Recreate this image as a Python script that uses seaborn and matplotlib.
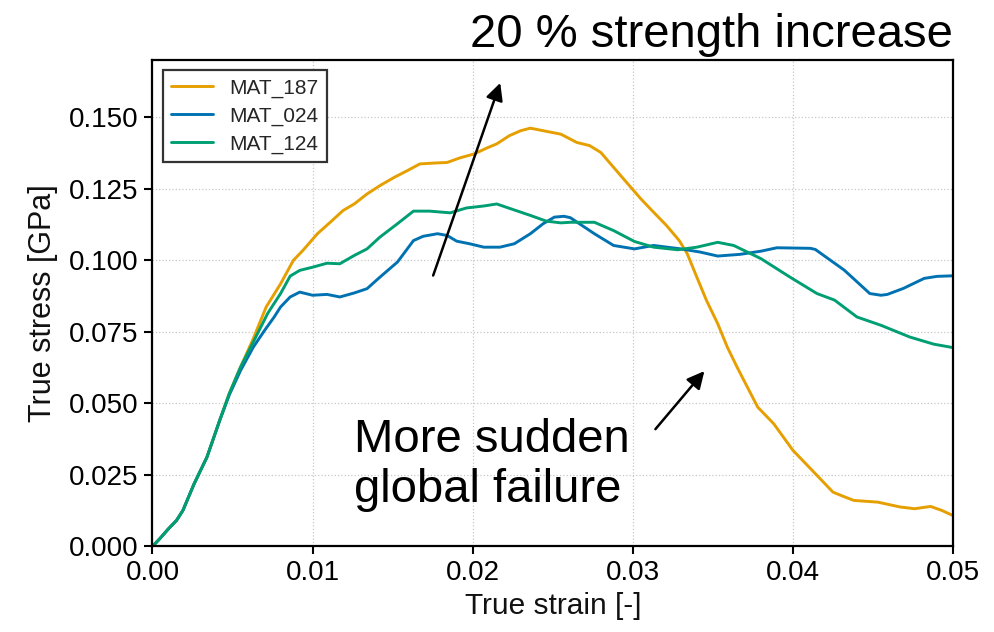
import matplotlib
matplotlib.use("Agg")
import matplotlib.pyplot as plt
import numpy as np
import pandas as pd
import seaborn as sns

# Stress-strain curves (strain [-], true stress [GPa])
strain_187 = [0.0, 0.0005, 0.0010, 0.0015, 0.0019, 0.0026, 0.0034, 0.0042, 0.0048, 0.0055,
              0.0063, 0.0071, 0.0080, 0.0088, 0.0094, 0.0103, 0.0111, 0.0119, 0.0126, 0.0134,
              0.0142, 0.0151, 0.0159, 0.0167, 0.0176, 0.0184, 0.0192, 0.0201, 0.0209, 0.0215,
              0.0223, 0.0230, 0.0236, 0.0244, 0.0255, 0.0265, 0.0273, 0.0280, 0.0288, 0.0296,
              0.0305, 0.0313, 0.0321, 0.0329, 0.0334, 0.0340, 0.0346, 0.0353, 0.0359, 0.0365,
              0.0372, 0.0378, 0.0388, 0.0400, 0.0411, 0.0425, 0.0432, 0.0438, 0.0453, 0.0467,
              0.0476, 0.0486, 0.0493, 0.0500]
stress_187 = [0.0, 0.0030, 0.0062, 0.0091, 0.0126, 0.0219, 0.0312, 0.0441, 0.0535, 0.0627,
              0.0727, 0.0837, 0.0918, 0.1000, 0.1035, 0.1093, 0.1133, 0.1174, 0.1197, 0.1232,
              0.1261, 0.1290, 0.1313, 0.1337, 0.1340, 0.1342, 0.1358, 0.1372, 0.1393, 0.1407,
              0.1436, 0.1453, 0.1462, 0.1453, 0.1441, 0.1412, 0.1401, 0.1377, 0.1325, 0.1273,
              0.1215, 0.1168, 0.1122, 0.1069, 0.1023, 0.0941, 0.0860, 0.0779, 0.0697, 0.0628,
              0.0552, 0.0487, 0.0429, 0.0336, 0.0272, 0.0190, 0.0174, 0.0161, 0.0155, 0.0138,
              0.0132, 0.0140, 0.0126, 0.0108]

strain_024 = [0.0, 0.0005, 0.0010, 0.0015, 0.0019, 0.0026, 0.0034, 0.0042, 0.0048, 0.0055,
              0.0063, 0.0070, 0.0076, 0.0080, 0.0086, 0.0092, 0.0100, 0.0109, 0.0117, 0.0126,
              0.0134, 0.0142, 0.0153, 0.0163, 0.0169, 0.0178, 0.0184, 0.0190, 0.0198, 0.0207,
              0.0217, 0.0226, 0.0236, 0.0244, 0.0251, 0.0257, 0.0261, 0.0276, 0.0288, 0.0301,
              0.0313, 0.0330, 0.0342, 0.0353, 0.0367, 0.0380, 0.0390, 0.0411, 0.0414, 0.0432,
              0.0448, 0.0455, 0.0459, 0.0469, 0.0482, 0.0490, 0.0500]
stress_024 = [0.0, 0.0030, 0.0062, 0.0091, 0.0126, 0.0219, 0.0312, 0.0441, 0.0530, 0.0615,
              0.0697, 0.0755, 0.0802, 0.0837, 0.0872, 0.0889, 0.0878, 0.0881, 0.0872, 0.0886,
              0.0901, 0.0941, 0.0994, 0.1069, 0.1084, 0.1093, 0.1087, 0.1067, 0.1058, 0.1046,
              0.1046, 0.1058, 0.1093, 0.1128, 0.1151, 0.1154, 0.1149, 0.1093, 0.1052, 0.1040,
              0.1052, 0.1040, 0.1029, 0.1015, 0.1021, 0.1032, 0.1044, 0.1042, 0.1038, 0.0966,
              0.0884, 0.0878, 0.0881, 0.0902, 0.0937, 0.0944, 0.0946]

strain_124 = [0.0, 0.0005, 0.0010, 0.0015, 0.0019, 0.0026, 0.0034, 0.0042, 0.0048, 0.0055,
              0.0063, 0.0072, 0.0080, 0.0086, 0.0092, 0.0100, 0.0109, 0.0117, 0.0126, 0.0134,
              0.0142, 0.0153, 0.0163, 0.0173, 0.0186, 0.0196, 0.0207, 0.0215, 0.0226, 0.0236,
              0.0246, 0.0255, 0.0261, 0.0276, 0.0288, 0.0301, 0.0313, 0.0328, 0.0340, 0.0353,
              0.0363, 0.0373, 0.0380, 0.0398, 0.0415, 0.0426, 0.0440, 0.0455, 0.0473, 0.0488,
              0.0500]
stress_124 = [0.0, 0.0030, 0.0062, 0.0091, 0.0126, 0.0219, 0.0312, 0.0441, 0.0535, 0.0627,
              0.0715, 0.0815, 0.0884, 0.0945, 0.0965, 0.0976, 0.0990, 0.0988, 0.1017, 0.1040,
              0.1081, 0.1128, 0.1172, 0.1172, 0.1166, 0.1183, 0.1190, 0.1197, 0.1176, 0.1157,
              0.1137, 0.1131, 0.1133, 0.1133, 0.1104, 0.1066, 0.1046, 0.1037, 0.1046, 0.1063,
              0.1052, 0.1025, 0.1006, 0.0942, 0.0884, 0.0861, 0.0802, 0.0773, 0.0732, 0.0707,
              0.0695]

materials = ["MAT_187", "MAT_024", "MAT_124"]
colors = ["#E69F00", "#0072B2", "#009E73"]
x_ticks = [0.00, 0.01, 0.02, 0.03, 0.04, 0.05]
y_ticks = [0.000, 0.025, 0.050, 0.075, 0.100, 0.125, 0.150]

frames = []
for name, xs, ys in zip(materials,
                        [strain_187, strain_024, strain_124],
                        [stress_187, stress_024, stress_124]):
    frames.append(pd.DataFrame({"strain": xs, "stress": ys, "material": name}))
df = pd.concat(frames, ignore_index=True)

sns.set_theme(style="ticks")
plt.rcParams["font.family"] = ["Liberation Sans", "DejaVu Sans"]
plt.rcParams["axes.edgecolor"] = "black"
plt.rcParams["lines.solid_joinstyle"] = "round"
plt.rcParams["lines.solid_capstyle"] = "round"

fig = plt.figure(figsize=(9.94, 6.32), dpi=100)
ax = fig.add_axes([0.1534, 0.1353, 0.8054, 0.7697])

sns.lineplot(data=df, x="strain", y="stress", hue="material", hue_order=materials,
             palette=colors, estimator=None, sort=False, linewidth=2.1, ax=ax)

ax.set_xlim(0, 0.05)
ax.set_ylim(0, 0.17)
ax.set_xticks(x_ticks)
ax.set_yticks(y_ticks)
ax.set_xticklabels([f"{v:.2f}" for v in x_ticks])
ax.set_yticklabels([f"{v:.3f}" for v in y_ticks])
ax.tick_params(axis="both", labelsize=20, direction="out", length=6, width=1.5,
               color="black", pad=4, labelcolor="black")
ax.grid(True, linestyle=":", color="#c8c8c8", linewidth=0.9)
for sp in ax.spines.values():
    sp.set_linewidth(1.6)
    sp.set_color("black")

ax.set_xlabel("True strain [-]", fontsize=21.5, color="#111111", labelpad=4)
ax.set_ylabel("True stress [GPa]", fontsize=22, color="#111111", labelpad=8)

leg = ax.legend(loc="upper left", fontsize=15, frameon=True, fancybox=False,
                handlelength=2.0, handletextpad=0.8, labelspacing=0.42,
                borderaxespad=0.5, borderpad=0.4)
leg.get_frame().set_edgecolor("#333333")
leg.get_frame().set_linewidth(1.6)
leg.get_frame().set_alpha(1.0)
for line in leg.get_lines():
    line.set_linewidth(2.1)

# Annotations
ax.text(0.05, 0.1746, "20 % strength increase", fontsize=34, ha="right",
        va="baseline", color="black", clip_on=False)
ax.annotate("", xy=(0.02172, 0.1620), xytext=(0.01753, 0.0947),
            arrowprops=dict(arrowstyle="-|>", color="black", lw=1.8,
                            mutation_scale=26, shrinkA=0, shrinkB=0))

ax.text(0.01258, 0.0156, "More sudden\nglobal failure", fontsize=34, ha="left",
        va="baseline", color="black", linespacing=1.18)
ax.annotate("", xy=(0.03447, 0.0613), xytext=(0.03141, 0.0410),
            arrowprops=dict(arrowstyle="-|>", color="black", lw=1.8,
                            mutation_scale=26, shrinkA=0, shrinkB=0))

fig.savefig("out.png", dpi=100)
